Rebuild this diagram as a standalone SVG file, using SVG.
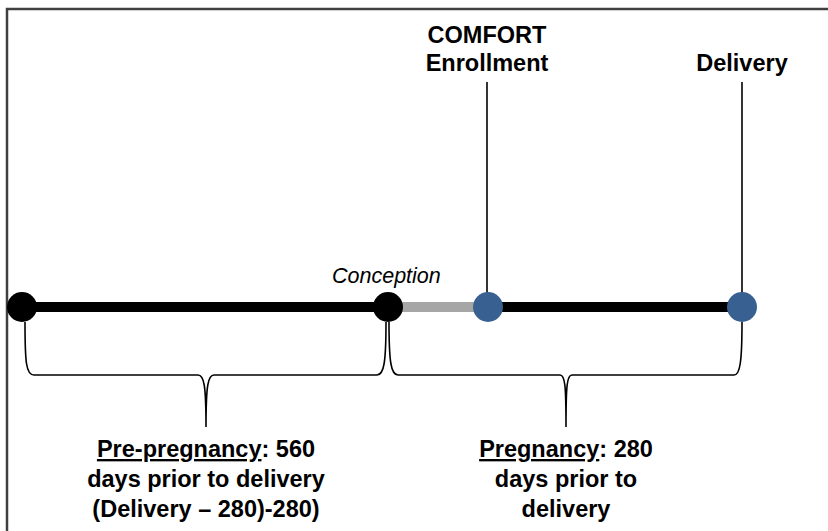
<svg xmlns="http://www.w3.org/2000/svg" width="828" height="531" viewBox="0 0 828 531">
<style>
.lbl{font-family:"Liberation Sans",Arial,sans-serif;font-weight:bold;font-size:23.5px;fill:#000;text-anchor:middle}
.it{font-family:"Liberation Sans",Arial,sans-serif;font-style:italic;font-size:21.5px;fill:#000}
.u{text-decoration:underline}
.brace{fill:none;stroke:#000;stroke-width:1.6}
.tick{stroke:#000;stroke-width:1.6}
.dot{fill:#000}
.blue{fill:#386192}
</style>
<rect width="828" height="531" fill="#fff"/>
<g id="frame" fill="none" stroke="#404040" stroke-width="2.5">
<path d="M7 531 L7 9 L828 9"/>
</g>
<g id="connectors">
<line x1="22" y1="307" x2="388" y2="307" stroke="#000" stroke-width="10"/>
<line x1="388" y1="307" x2="488" y2="307" stroke="#a6a6a6" stroke-width="10"/>
<line x1="488" y1="307" x2="742" y2="307" stroke="#000" stroke-width="10"/>
<line class="tick" x1="487" y1="82" x2="487" y2="294"/>
<line class="tick" x1="742" y1="82" x2="742" y2="294"/>
<path class="brace" d="M25 322 C25 362 26 375 34 375 L198 375 C204 375 206 385 206 427 C206 385 208 375 214 375 L377 375 C384 375 386 362 386 322"/>
<path class="brace" d="M389 322 C389 362 391 375 398 375 L560 375 C565 375 566 385 566 427 C566 385 567 375 572 375 L734 375 C740 375 742 362 742 322"/>
</g>
<g id="start">
<circle class="dot" cx="22" cy="307" r="15"/>
</g>
<g id="conception">
<circle class="dot" cx="388" cy="307" r="15"/>
<text class="it" x="332" y="283">Conception</text>
</g>
<g id="enrollment">
<circle class="blue" cx="488" cy="307" r="15"/>
<text class="lbl" x="487" y="43">COMFORT</text>
<text class="lbl" x="487" y="71">Enrollment</text>
</g>
<g id="delivery">
<circle class="blue" cx="742" cy="307" r="15"/>
<text class="lbl" x="742" y="71">Delivery</text>
</g>
<g id="prepregnancy">
<text class="lbl" x="206" y="457"><tspan class="u">Pre-pregnancy</tspan>: 560</text>
<text class="lbl" x="206" y="487">days prior to delivery</text>
<text class="lbl" x="206" y="517">(Delivery – 280)-280)</text>
</g>
<g id="pregnancy">
<text class="lbl" x="566" y="457"><tspan class="u">Pregnancy</tspan>: 280</text>
<text class="lbl" x="566" y="487">days prior to</text>
<text class="lbl" x="566" y="517">delivery</text>
</g>
</svg>
